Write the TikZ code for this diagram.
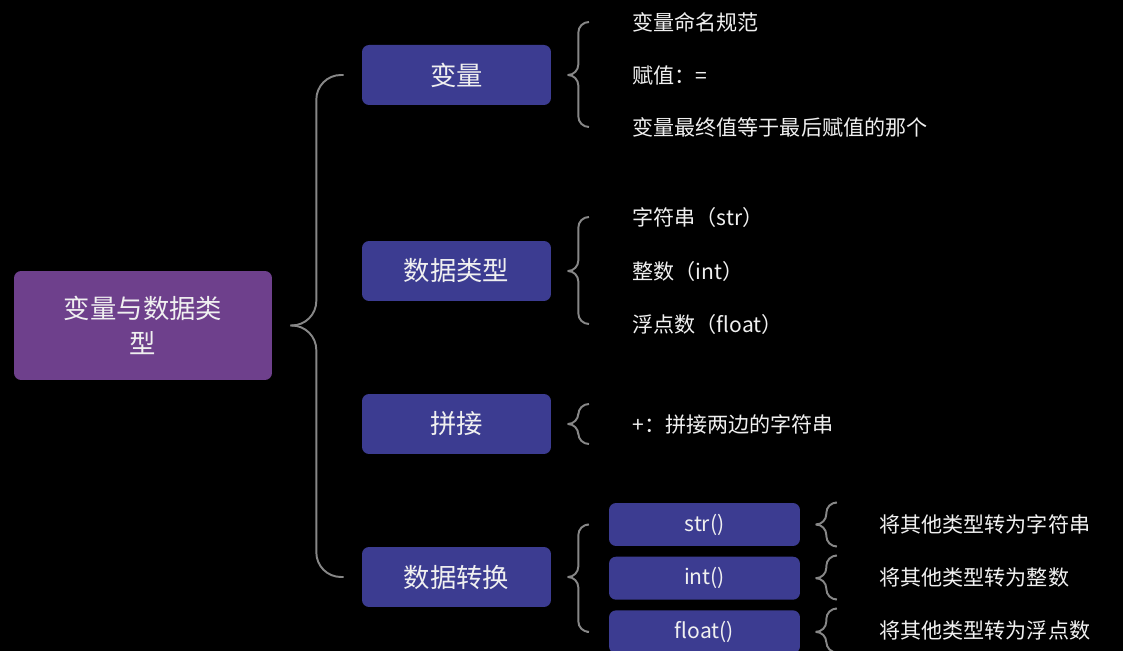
\documentclass[tikz,border=0pt]{standalone}
\usepackage{fontspec}
\setmainfont{Noto Sans CJK SC}
\usetikzlibrary{positioning, calc}
\definecolor{rootpurple}{RGB}{110,64,140}
\definecolor{topicblue}{RGB}{60,60,145}
\definecolor{bracegray}{RGB}{135,135,135}
\definecolor{textwhite}{RGB}{240,240,240}

% tip, spine offset, top end, bottom end, corner radius
\newcommand{\mindbrace}[5]{%
  \draw[bracket, rounded corners=#5] (#1) -- ++(#2,0) |- (#3);
  \draw[bracket, rounded corners=#5] (#1) -- ++(#2,0) |- (#4);
}

\begin{document}
\begin{tikzpicture}[
    x=0.02cm, y=-0.02cm,
    node distance=0.2cm,
    rootbox/.style={rectangle, rounded corners=4pt, fill=rootpurple, text=textwhite, minimum width=5.16cm, minimum height=2.18cm, align=center, font=\fontsize{15}{20}\selectfont},
    topic/.style={rectangle, rounded corners=4pt, fill=topicblue, text=textwhite, minimum width=3.78cm, minimum height=1.2cm, font=\fontsize{15}{18}\selectfont},
    subtopic/.style={rectangle, rounded corners=4pt, fill=topicblue, text=textwhite, minimum width=3.82cm, minimum height=0.86cm, font=\fontsize{12}{14}\selectfont},
    leaf/.style={anchor=west, inner sep=0pt, text=textwhite, font=\fontsize{12}{14}\selectfont},
    bracket/.style={draw=bracegray, line width=1.1pt},
]
    \fill[black] (0,0) rectangle (1123,651);
    \useasboundingbox (0,0) rectangle (1123,651);

    \node[rootbox] (root) at (143,325.5) {变量与数据类\\型};

    \node[topic] (t1) at (456.5,75) {变量};
    \node[topic] (t2) at (456.5,271) {数据类型};
    \node[topic] (t3) at (456.5,424) {拼接};
    \node[topic] (t4) at (456.5,577) {数据转换};

    \node[leaf] (l11) at (632,22) {变量命名规范};
    \node[leaf] (l12) at (632,75) {赋值：=};
    \node[leaf] (l13) at (632,127) {变量最终值等于最后赋值的那个};

    \node[leaf] (l21) at (632,217) {字符串（str）};
    \node[leaf] (l22) at (632,271) {整数（int）};
    \node[leaf] (l23) at (632,324) {浮点数（float）};

    \node[leaf] (l31) at (632,424) {+：拼接两边的字符串};

    \node[subtopic] (s1) at (704.5,524.5) {str()};
    \node[subtopic, below=of s1] (s2) {int()};
    \node[subtopic, below=of s2] (s3) {float()};

    \node[leaf] (l41) at (879,524.5) {将其他类型转为字符串};
    \node[leaf] (l42) at (879,577.5) {将其他类型转为整数};
    \node[leaf] (l43) at (879,630.5) {将其他类型转为浮点数};

    % brace tips and ends
    \coordinate (b0) at ($(root.east)+(18,0)$);
    \mindbrace{b0}{26}{$(t1.west)+(-18,0)$}{$(t4.west)+(-18,0)$}{14pt}

    \coordinate (b1) at ($(t1.east)+(17,0)$);
    \mindbrace{b1}{10}{$(l11.west)+(-44,0)$}{$(l13.west)+(-44,0)$}{6pt}
    \coordinate (b2) at ($(t2.east)+(17,0)$);
    \mindbrace{b2}{10}{$(l21.west)+(-44,0)$}{$(l23.west)+(-44,0)$}{6pt}
    \coordinate (b3) at ($(t3.east)+(17,0)$);
    \mindbrace{b3}{10}{$(l31.west)+(-44,-20)$}{$(l31.west)+(-44,20)$}{6pt}
    \coordinate (b4) at ($(t4.east)+(17,0)$);
    \mindbrace{b4}{10}{$(s1.west)+(-22,0)$}{$(s3.west)+(-22,0)$}{6pt}

    \coordinate (c1) at ($(s1.east)+(17,0)$);
    \mindbrace{c1}{9}{$(l41.west)+(-44,-22)$}{$(l41.west)+(-44,22)$}{6pt}
    \coordinate (c2) at ($(s2.east)+(17,0)$);
    \mindbrace{c2}{9}{$(l42.west)+(-44,-22)$}{$(l42.west)+(-44,22)$}{6pt}
    \coordinate (c3) at ($(s3.east)+(17,0)$);
    \mindbrace{c3}{9}{$(l43.west)+(-44,-22)$}{$(l43.west)+(-44,22)$}{6pt}
\end{tikzpicture}
\end{document}
